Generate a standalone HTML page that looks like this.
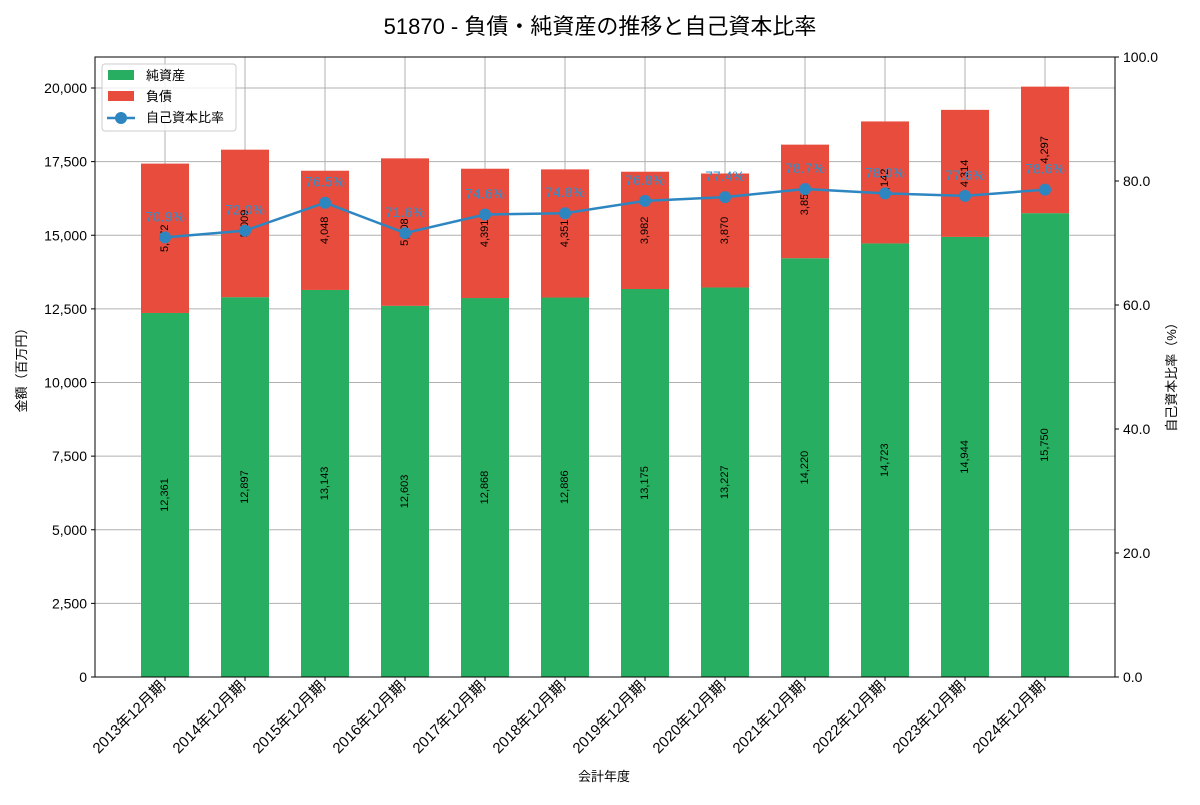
<!DOCTYPE html>
<html><head><meta charset="utf-8"><style>
body{margin:0;background:#fff;font-family:"Liberation Sans","Noto Sans CJK JP",sans-serif}
svg text{font-family:"Liberation Sans","Noto Sans CJK JP",sans-serif}
</style></head><body>
<svg id="c" width="1200" height="800"></svg>
<script>
const categories=["2013年12月期","2014年12月期","2015年12月期","2016年12月期","2017年12月期","2018年12月期","2019年12月期","2020年12月期","2021年12月期","2022年12月期","2023年12月期","2024年12月期"];
const netAssets=[12361,12897,13143,12603,12868,12886,13175,13227,14220,14723,14944,15750];
const liabilities=[5072,5009,4048,5008,4391,4351,3982,3870,3857,4142,4314,4297];
const ratio=[70.9,72.0,76.5,71.6,74.6,74.8,76.8,77.4,78.7,78.0,77.6,78.6];
const leftTicks=[0,2500,5000,7500,10000,12500,15000,17500,20000];
const rightTicks=[0,20,40,60,80,100];
const L=95,R=1115,T=57,B=677;
const yL=v=>B-v/21053*(B-T);
const yR=v=>B-v/100*(B-T);
const xC=i=>L+70+80*i;
const svg=document.getElementById('c');
const NS='http://www.w3.org/2000/svg';
function mk(tag,attrs,parent,text){const e=document.createElementNS(NS,tag);for(const k in attrs)e.setAttribute(k,attrs[k]);if(text!==undefined)e.textContent=text;(parent||svg).appendChild(e);return e;}
const fmt=v=>v.toLocaleString('en-US');
leftTicks.forEach(t=>{mk('line',{x1:L,x2:R,y1:yL(t),y2:yL(t),stroke:'#b0b0b0','stroke-width':1});});
categories.forEach((c,i)=>{mk('line',{x1:xC(i),x2:xC(i),y1:T,y2:B,stroke:'#b0b0b0','stroke-width':1});});
categories.forEach((c,i)=>{
 let g=mk('rect',{x:xC(i)-24,y:yL(netAssets[i]),width:48,height:B-yL(netAssets[i]),fill:'#27ae60'});
 
 
 let r=mk('rect',{x:xC(i)-24,y:yL(netAssets[i]+liabilities[i]),width:48,height:yL(netAssets[i])-yL(netAssets[i]+liabilities[i]),fill:'#e74c3c'});
 
 
 let ym=(B+yL(netAssets[i]))/2;
 let t1=mk('text',{x:xC(i),y:ym,'font-size':11,'text-anchor':'middle','dominant-baseline':'central',transform:`rotate(-90 ${xC(i)} ${ym})`},null,fmt(netAssets[i]));
 
 
 let ym2=(yL(netAssets[i])+yL(netAssets[i]+liabilities[i]))/2;
 let t2=mk('text',{x:xC(i),y:ym2,'font-size':11,'text-anchor':'middle','dominant-baseline':'central',transform:`rotate(-90 ${xC(i)} ${ym2})`},null,fmt(liabilities[i]));
 
 
});
let pl=mk('polyline',{points:ratio.map((v,i)=>xC(i)+','+yR(v)).join(' '),fill:'none',stroke:'#2e86c1','stroke-width':2.5});


ratio.forEach((v,i)=>{
 let c=mk('circle',{cx:xC(i),cy:yR(v),r:6,fill:'#2e86c1'});
 
 
 let t=mk('text',{x:xC(i),y:yR(v)-16,'font-size':14,fill:'#3a8cc6','text-anchor':'middle'},null,v.toFixed(1)+'%');
 
 
});
mk('rect',{x:L,y:T,width:R-L,height:B-T,fill:'none',stroke:'#000','stroke-width':1});
leftTicks.forEach(t=>{mk('line',{x1:L-4,x2:L,y1:yL(t),y2:yL(t),stroke:'#000'});
 let e=mk('text',{x:L-8,y:yL(t)+5,'font-size':14,'text-anchor':'end'},null,fmt(t));
 
 });
rightTicks.forEach(t=>{mk('line',{x1:R,x2:R+4,y1:yR(t),y2:yR(t),stroke:'#000'});
 let e=mk('text',{x:R+8,y:yR(t)+5,'font-size':14},null,t.toFixed(1));
 
 });
categories.forEach((c,i)=>{mk('line',{x1:xC(i),x2:xC(i),y1:B,y2:B+4,stroke:'#000'});
 let e=mk('text',{x:xC(i)+1,y:B+10,'font-size':15,'text-anchor':'end',transform:`rotate(-45 ${xC(i)+1} ${B+10})`},null,c);
 
 });
</script>
<svg width="1200" height="800" style="position:absolute;left:0;top:0">
<text x="600" y="34" font-size="22" text-anchor="middle">51870 - 負債・純資産の推移と自己資本比率</text>
<text x="604" y="781" font-size="13" text-anchor="middle">会計年度</text>
<text x="26" y="367" font-size="13" text-anchor="middle" transform="rotate(-90 26 367)">金額（百万円）</text>
<text x="1176" y="374" font-size="13" text-anchor="middle" transform="rotate(-90 1176 374)">自己資本比率（%）</text>
<g>
<rect x="102" y="64" width="134" height="67" fill="#fff" fill-opacity="0.8" stroke="#ccc" rx="3"/>
<rect x="108" y="70" width="26" height="10" fill="#27ae60"/>
<text x="146" y="80" font-size="13">純資産</text>
<rect x="108" y="91" width="26" height="10" fill="#e74c3c"/>
<text x="146" y="101" font-size="13">負債</text>
<line x1="107" x2="135" y1="118" y2="118" stroke="#2e86c1" stroke-width="2.5"/>
<circle cx="121" cy="118" r="6" fill="#2e86c1"/>
<text x="146" y="122" font-size="13">自己資本比率</text>
</g>
</svg>
</body></html>
